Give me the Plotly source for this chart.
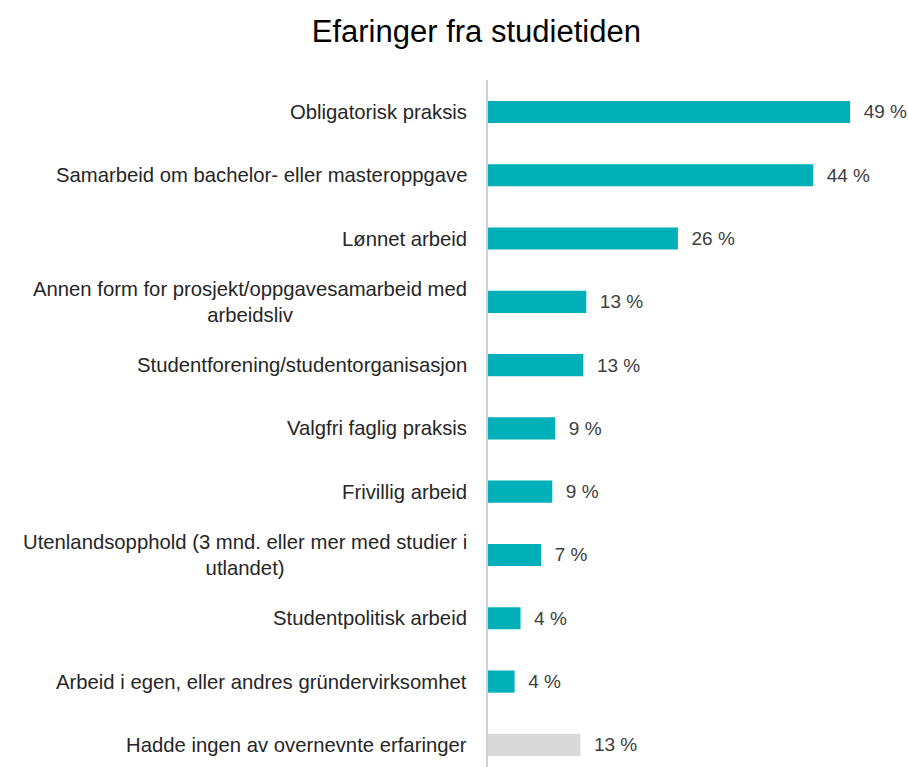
import plotly.graph_objects as go

categories = [
    "Obligatorisk praksis",
    "Samarbeid om bachelor- eller masteroppgave",
    "Lønnet arbeid",
    "Annen form for prosjekt/oppgavesamarbeid med<br>arbeidsliv",
    "Studentforening/studentorganisasjon",
    "Valgfri faglig praksis",
    "Frivillig arbeid",
    "Utenlandsopphold (3 mnd. eller mer med studier i<br>utlandet)",
    "Studentpolitisk arbeid",
    "Arbeid i egen, eller andres gründervirksomhet",
    "Hadde ingen av overnevnte erfaringer",
]
values = [49.0, 44.0, 25.7, 13.3, 12.9, 9.1, 8.7, 7.2, 4.4, 3.6, 12.5]
value_labels = ["49 %", "44 %", "26 %", "13 %", "13 %", "9 %", "9 %", "7 %", "4 %", "4 %", "13 %"]
bar_colors = ["#00B0B9"] * 10 + ["#D9D9D9"]

title = "Efaringer fra studietiden"

FONT = "Liberation Sans"

fig = go.Figure()
fig.add_trace(go.Bar(
    x=values,
    y=categories,
    orientation="h",
    marker=dict(color=bar_colors, line=dict(width=0)),
    width=0.35,
    text=["  " + t for t in value_labels],
    textposition="outside",
    textfont=dict(family=FONT, size=19, color="#404040"),
    cliponaxis=False,
    hoverinfo="skip",
))

for cat in categories:
    fig.add_annotation(
        x=0, xref="paper", y=cat, yref="y",
        text=cat, showarrow=False,
        xanchor="right", yanchor="middle", align="center",
        xshift=-19,
        font=dict(family=FONT, size=20.3, color="#262626"),
    )

fig.update_layout(
    width=909, height=767,
    margin=dict(l=488, r=0, t=80, b=0),
    paper_bgcolor="white", plot_bgcolor="white",
    title=dict(text=title, x=0.524, xanchor="center", y=0.96, yanchor="middle",
               font=dict(family=FONT, size=31, color="#000000")),
    showlegend=False,
)
fig.update_xaxes(range=[0, 56.97], visible=False, showgrid=False, zeroline=False)
fig.update_yaxes(
    type="category",
    categoryorder="array", categoryarray=categories,
    range=[10.35, -0.505],
    showticklabels=False, ticks="",
    showgrid=False, zeroline=False,
    showline=True, linecolor="#D0D0D0", linewidth=2,
)

fig.write_html("out.html", config={"displayModeBar": False},
               post_script="document.body.style.margin='0';")
